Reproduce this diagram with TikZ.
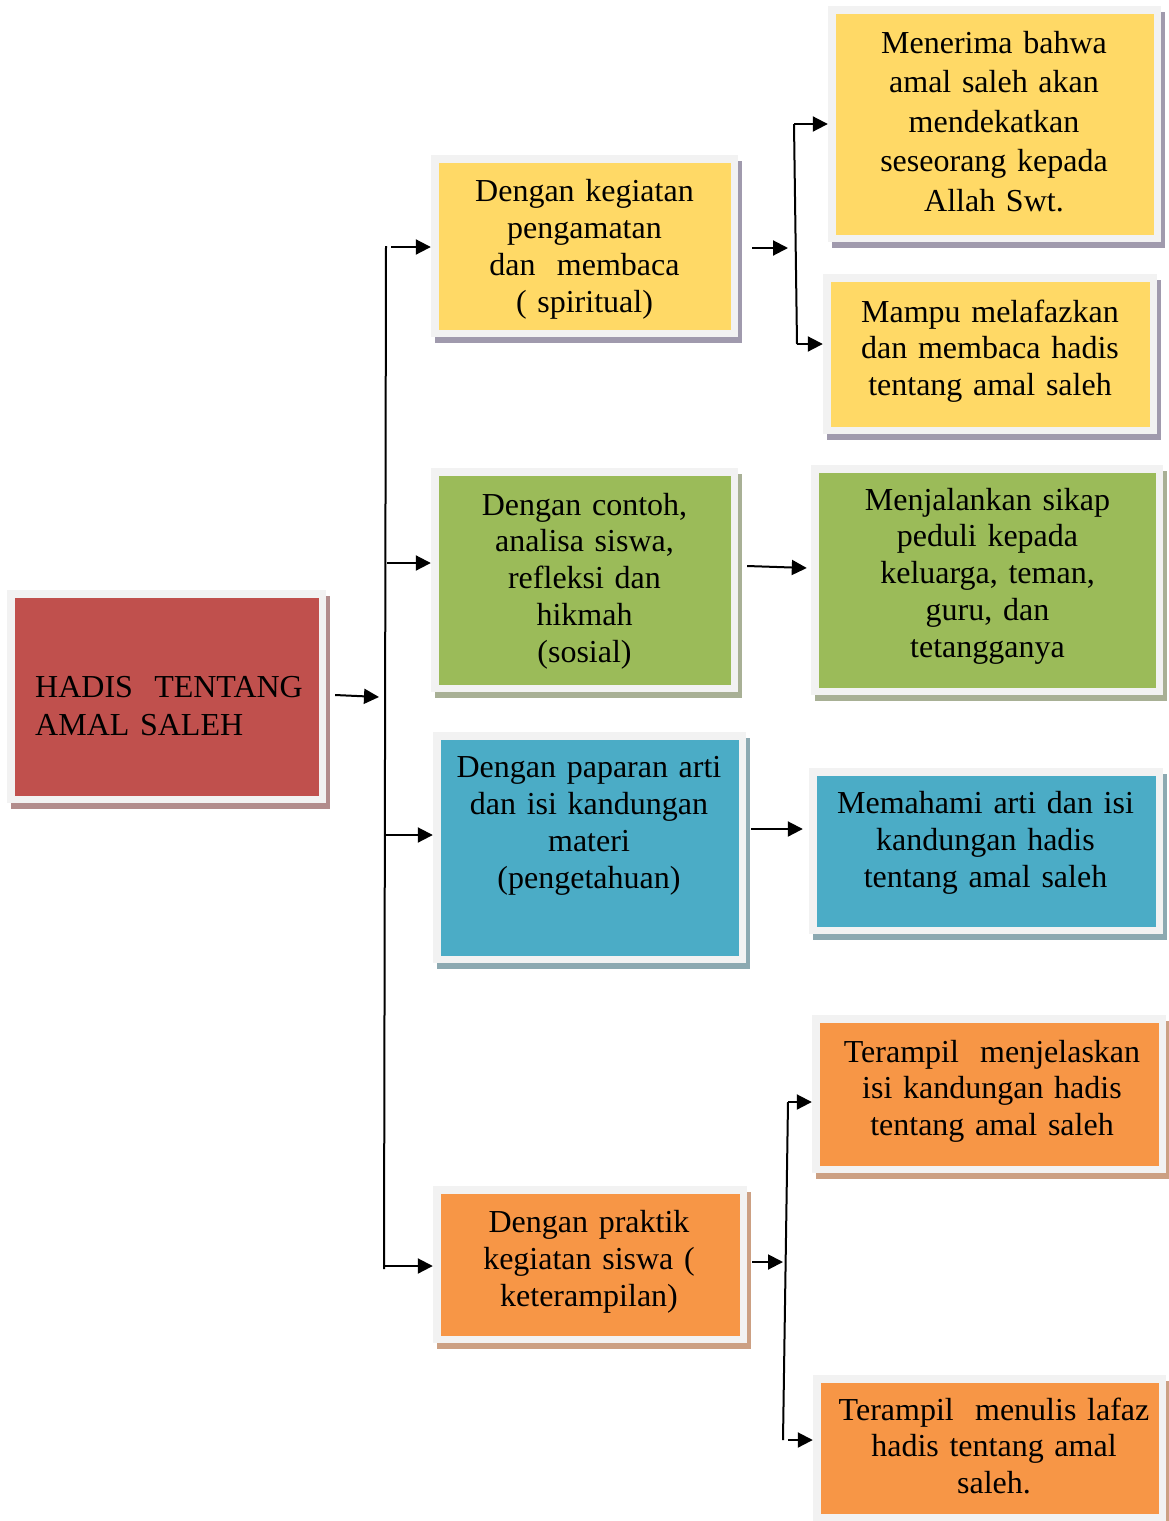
\documentclass[tikz,border=0pt]{standalone}
\usepackage{fontspec}
\setmainfont{Liberation Serif}
\usetikzlibrary{arrows.meta,shadows}
\definecolor{framegray}{HTML}{F2F2F2}
\definecolor{redfill}{HTML}{C0504D}
\definecolor{redsh}{HTML}{B28C8C}
\definecolor{yelfill}{HTML}{FFD966}
\definecolor{yelsh}{HTML}{A09AAD}
\definecolor{grnfill}{HTML}{9BBB59}
\definecolor{grnsh}{HTML}{A8B095}
\definecolor{blufill}{HTML}{4BACC6}
\definecolor{blush}{HTML}{8CA9B1}
\definecolor{orgfill}{HTML}{F79646}
\definecolor{orgsh}{HTML}{CCA083}
\begin{document}
\begin{tikzpicture}[x=1pt, y=1pt,
	box/.style 2 args={fill=framegray,
		path picture={\fill[#1] ([shift={(7.5pt,7.5pt)}]path picture bounding box.south west) rectangle ([shift={(-7.5pt,-7.5pt)}]path picture bounding box.north east);},
		general shadow={fill=#2, shadow xshift=3.5pt, shadow yshift=-6pt}},
	redbox/.style={box={redfill}{redsh}},
	yelbox/.style={box={yelfill}{yelsh}},
	grnbox/.style={box={grnfill}{grnsh}},
	blubox/.style={box={blufill}{blush}},
	orgbox/.style={box={orgfill}{orgsh}},
	txt/.style={font=\fontsize{32pt}{#1}\selectfont, align=center, text width=340pt, anchor=base},
	txt/.default=37pt,
	conn/.style={line width=2pt},
	arr/.style={conn, -{Triangle[length=15pt,width=15pt]}}]
	\tikzstyle{every node}+=[inner sep=0pt]
	\useasboundingbox (0,0) rectangle (1168,-1521);
	% boxes
	\node[redbox, minimum width=319pt, minimum height=213pt] (hadis) at (166.5,-696.5) {};
	\node[yelbox, minimum width=307pt, minimum height=182pt] (spiritual) at (584.5,-246) {};
	\node[grnbox, minimum width=307pt, minimum height=224pt] (sosial) at (584.5,-580) {};
	\node[blubox, minimum width=313pt, minimum height=231pt] (pengetahuan) at (589.5,-847.5) {};
	\node[orgbox, minimum width=314pt, minimum height=157pt] (keterampilan) at (590,-1264.5) {};
	\node[yelbox, minimum width=333pt, minimum height=236pt] (menerima) at (994.5,-124) {};
	\node[yelbox, minimum width=334pt, minimum height=160pt] (melafaz) at (990,-354) {};
	\node[grnbox, minimum width=352pt, minimum height=230pt] (sikap) at (987,-580) {};
	\node[blubox, minimum width=354pt, minimum height=166pt] (memahami) at (986,-851) {};
	\node[orgbox, minimum width=354pt, minimum height=158pt] (menjelas) at (989,-1094) {};
	\node[orgbox, minimum width=353pt, minimum height=146pt] (menulis) at (989.5,-1448) {};
	% texts
	\node[txt=38pt, align=left, text width=300pt, anchor=base west] (hadis-t) at (35,-697) {HADIS\ \ TENTANG\\AMAL SALEH};
	\node[txt] (spiritual-t) at (584.5,-201) {Dengan kegiatan\\pengamatan\\dan\ \ membaca\\( spiritual)};
	\node[txt=36.75pt] (sosial-t) at (584.5,-515) {Dengan contoh,\\analisa siswa,\\refleksi dan\\hikmah\\(sosial)};
	\node[txt] (pengetahuan-t) at (589,-777) {Dengan paparan arti\\dan isi kandungan\\materi\\(pengetahuan)};
	\node[txt] (keterampilan-t) at (589,-1232) {Dengan praktik\\kegiatan siswa (\\keterampilan)};
	\node[txt=39.5pt] (menerima-t) at (994,-53) {Menerima bahwa\\amal saleh akan\\mendekatkan\\seseorang kepada\\Allah Swt.};
	\node[txt=36.5pt] (melafaz-t) at (990,-322) {Mampu melafazkan\\dan membaca hadis\\tentang amal saleh};
	\node[txt=36.75pt] (sikap-t) at (987.5,-510) {Menjalankan sikap\\peduli kepada\\keluarga, teman,\\guru, dan\\tetangganya};
	\node[txt] (memahami-t) at (985.5,-813) {Memahami arti dan isi\\kandungan hadis\\tentang amal saleh};
	\node[txt=36.5pt] (menjelas-t) at (992,-1062) {Terampil\ \ menjelaskan\\isi kandungan hadis\\tentang amal saleh};
	\node[txt=36.5pt] (menulis-t) at (994,-1420) {Terampil\ \ menulis lafaz\\hadis tentang amal\\saleh.};
	% trunk from the root
	\coordinate (tTop) at (386,-246);
	\coordinate (tBot) at (384,-1269);
	\draw[conn] (tTop) -- (tBot);
	\coordinate (rIn) at (379,-697);
	\draw[arr] ([shift={(9pt,1.5pt)}]hadis.east) -- (rIn);
	\coordinate (k1) at (391,-247);
	\draw[arr] (k1) -- (k1 -| spiritual.west);
	\coordinate (k2) at (387,-563);
	\draw[arr] (k2) -- (k2 -| sosial.west);
	\coordinate (k3) at (385,-835);
	\draw[arr] (k3) -- (k3 -| pengetahuan.west);
	\coordinate (k4) at (384,-1266);
	\draw[arr] (k4) -- (k4 -| keterampilan.west);
	% spiritual branch
	\coordinate (s1) at (788,-248);
	\draw[arr] ([shift={(14pt,-2pt)}]spiritual.east) -- (s1);
	\coordinate (s1t) at (794,-124);
	\coordinate (s1b) at (797,-344);
	\draw[conn] (s1t) -- (s1b);
	\draw[arr] (s1t) -- (s1t -| menerima.west);
	\draw[arr] (s1b) -- (s1b -| melafaz.west);
	% sosial and pengetahuan
	\draw[arr] ([shift={(9pt,14pt)}]sosial.east) -- ([shift={(-4pt,12pt)}]sikap.west);
	\draw[arr] ([shift={(5pt,18.5pt)}]pengetahuan.east) -- ([shift={(-6pt,22pt)}]memahami.west);
	% keterampilan branch
	\coordinate (s4) at (783,-1262);
	\draw[arr] ([shift={(5pt,2.5pt)}]keterampilan.east) -- (s4);
	\coordinate (s4t) at (788,-1102);
	\coordinate (s4b) at (783,-1440);
	\draw[conn] (s4t) -- (s4b);
	\draw[arr] (s4t) -- (s4t -| menjelas.west);
	\draw[arr] ([xshift=5pt]s4b) -- (s4b -| menulis.west);
\end{tikzpicture}
\end{document}
